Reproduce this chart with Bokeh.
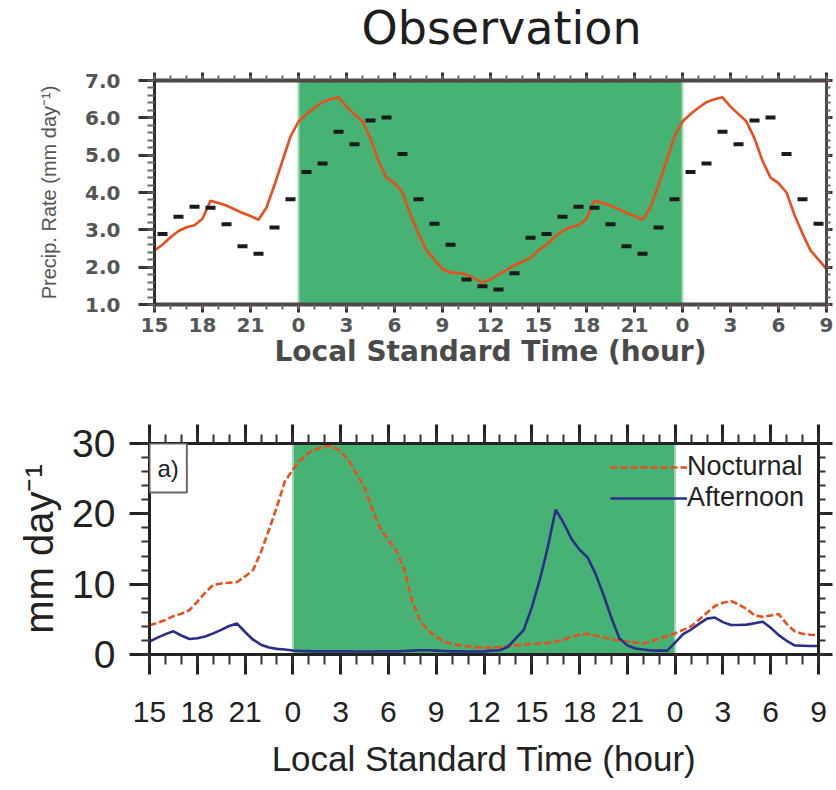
from bokeh.plotting import figure
from bokeh.models import (Range1d, FixedTicker, LinearAxis, BoxAnnotation, Span,
                          Legend, LegendItem, Label, PrintfTickFormatter,
                          CustomLabelingPolicy)
from bokeh.layouts import column, row
from bokeh.embed import file_html
from bokeh.resources import INLINE

# ---------------- data ----------------
tick_hours = [15, 18, 21, 24, 27, 30, 33, 36, 39, 42, 45, 48, 51, 54, 57]
tick_labels = ["15", "18", "21", "0", "3", "6", "9", "12", "15", "18", "21", "0", "3", "6", "9"]
shade_start, shade_end = 24, 48

# "Observation" panel: mean diurnal cycle (drawn twice in the chart), local time 0.0 .. 23.5 h
rate_cycle = [
    5.9, 6.1, 6.27, 6.42, 6.5, 6.55,      # 0 - 2.5
    6.3, 6.1, 5.9, 5.45, 4.85, 4.4,       # 3 - 5.5
    4.25, 4.0, 3.4, 2.9, 2.45, 2.2,       # 6 - 8.5
    1.95, 1.85, 1.85, 1.8, 1.7, 1.58,     # 9 - 11.5
    1.68, 1.8, 1.93, 2.05, 2.15, 2.25,    # 12 - 14.5
    2.45, 2.6, 2.8, 2.97, 3.07, 3.12,     # 15 - 17.5
    3.3, 3.78, 3.72, 3.65, 3.55, 3.45,    # 18 - 20.5
    3.37, 3.27, 3.6, 4.2, 4.85, 5.5,      # 21 - 23.5
]
# hourly means, plotted at h + 0.5
obs_cycle = [4.55, 4.78, 5.63, 5.29, 5.93, 6.01, 5.03, 3.82, 3.16, 2.60, 1.67, 1.49,
             1.40, 1.84, 2.79, 2.89, 3.35, 3.62, 3.59, 3.15, 2.56, 2.36, 3.06, 3.82]

# Panel a): 15 LST to 09 LST two days later, every 0.5 h (mm/day)
nocturnal = [
    4.15, 4.5, 4.9, 5.45, 5.8, 6.3,
    7.5, 8.8, 9.9, 10.1, 10.2, 10.3,
    11.1, 12.0, 14.6, 17.7, 21.0, 24.6,
    26.3, 27.7, 28.7, 29.2, 29.6, 29.6,
    28.9, 27.6, 25.7, 23.7, 20.6, 17.9,
    16.3, 14.8, 12.0, 7.5, 4.75, 3.4,
    2.5, 1.8, 1.5, 1.3, 1.15, 1.05,
    0.95, 1.0, 1.05, 1.15, 1.3, 1.4,
    1.5, 1.6, 1.65, 1.85, 2.1, 2.5,
    2.85, 2.9, 2.7, 2.45, 2.15, 2.0,
    1.85, 1.7, 1.55, 1.9, 2.25, 2.6,
    3.0, 3.5, 4.0, 4.95, 5.95, 6.9,
    7.35, 7.6, 7.1, 6.45, 5.55, 5.35,
    5.55, 5.75, 4.35, 3.3, 2.95, 2.8,
    2.75,
]
afternoon = [
    1.85, 2.4, 2.9, 3.3, 2.7, 2.2,
    2.3, 2.55, 3.0, 3.5, 4.05, 4.4,
    3.2, 2.1, 1.4, 1.0, 0.8, 0.7,
    0.57, 0.5, 0.48, 0.45, 0.45, 0.45,
    0.45, 0.45, 0.42, 0.42, 0.42, 0.45,
    0.45, 0.45, 0.5, 0.55, 0.6, 0.6,
    0.55, 0.5, 0.45, 0.45, 0.42, 0.42,
    0.45, 0.55, 0.6, 1.1, 2.3, 3.5,
    6.7, 10.6, 15.2, 20.6, 18.7, 16.4,
    14.9, 13.8, 11.5, 8.5, 5.2, 2.3,
    1.3, 0.85, 0.7, 0.57, 0.55, 0.55,
    1.7, 2.9, 3.55, 4.35, 5.1, 5.25,
    4.6, 4.2, 4.2, 4.25, 4.45, 4.65,
    3.8, 2.75, 1.95, 1.3, 1.25, 1.2,
    1.2,
]

# ---------------- derived series ----------------
half_hours = [15 + 0.5 * i for i in range(len(nocturnal))]
rate_y = [rate_cycle[int(round((h % 24) * 2)) % 48] for h in half_hours]
obs_x = [h + 0.5 for h in range(15, 57)]
obs_y = [obs_cycle[int(x) % 24] for x in obs_x]

GREEN = "#46b274"
EDGE = "#a6d8b3"
ORANGE = "#e94f1d"
NAVY = "#2c2f88"
SANS = "Liberation Sans"

label_map = dict(zip(tick_hours, tick_labels))
x_ticker = FixedTicker(ticks=tick_hours, minor_ticks=list(range(15, 58)))


def add_axis(fig, place, ticker, labels=True, **kw):
    ax = LinearAxis(ticker=ticker, **kw)
    if not labels:
        ax.major_label_text_font_size = "1px"
        ax.major_label_standoff = 0
        ax.major_label_policy = CustomLabelingPolicy(code="return []")
    fig.add_layout(ax, place)
    return ax


# ================= title strip =================
head = figure(width=836, height=64, x_range=Range1d(0, 1), y_range=Range1d(0, 1),
              output_backend="svg", toolbar_location=None,
              x_axis_location=None, y_axis_location=None,
              min_border_left=0, min_border_right=0, min_border_top=0, min_border_bottom=0)
head.grid.visible = False
head.outline_line_color = None
head.title.text = "Observation"
head.title.text_font = "DejaVu Sans"
head.title.text_font_size = "46px"
head.title.text_font_style = "normal"
head.title.text_color = "#1e1e1e"
head.title.align = "left"
head.title.vertical_align = "top"
head.title.offset = 361
head.title.standoff = 0

# ================= top panel: Observation =================
top = figure(width=836, height=314, x_range=Range1d(15, 57), y_range=Range1d(1, 7),
             output_backend="svg", toolbar_location=None, title=None,
             x_axis_location=None, y_axis_location=None,
             min_border_left=154, min_border_right=0, min_border_top=16, min_border_bottom=74)
top.grid.visible = False
top.outline_line_color = None

top.add_layout(BoxAnnotation(left=shade_start, right=shade_end, fill_color=GREEN,
                             fill_alpha=1, line_color=None, level="underlay"))
for loc in (shade_start, shade_end):
    top.add_layout(Span(location=loc, dimension="height", line_color=EDGE,
                        line_width=2, level="underlay"))

top.line(half_hours, rate_y, line_color=ORANGE, line_width=2.6)
top.scatter(obs_x, obs_y, marker="dash", size=10, line_color="#1b1b1b", line_width=4)

y_top_ticker = FixedTicker(ticks=[1, 2, 3, 4, 5, 6, 7],
                           minor_ticks=[1 + 0.2 * i for i in range(31)])

common_top = dict(axis_line_color="#4e4744", axis_line_width=4,
                  major_tick_line_color="#3a3434", major_tick_line_width=3, major_tick_in=0,
                  minor_tick_line_color="#6e6664", minor_tick_line_width=2, minor_tick_in=0)

ax = add_axis(top, "below", x_ticker, major_label_overrides=label_map,
              axis_label="Local Standard Time (hour)",
              major_tick_out=8, minor_tick_out=5, **common_top)
ax.major_label_text_font = "DejaVu Sans"
ax.major_label_text_font_size = "20px"
ax.major_label_text_font_style = "bold"
ax.major_label_text_color = "#555555"
ax.major_label_standoff = 5
ax.axis_label_text_font = "DejaVu Sans"
ax.axis_label_text_font_size = "28px"
ax.axis_label_text_font_style = "bold"
ax.axis_label_text_color = "#4a4a4a"
ax.axis_label_standoff = 0

ax = add_axis(top, "left", y_top_ticker, formatter=PrintfTickFormatter(format="%.1f"),
              axis_label="Precip. Rate (mm day\u207b\u00b9)",
              major_tick_out=16, minor_tick_out=7, **common_top)
ax.axis_line_color = "#2a2a2a"
ax.axis_line_width = 3
ax.major_label_text_font = "DejaVu Sans"
ax.major_label_text_font_size = "20px"
ax.major_label_text_font_style = "bold"
ax.major_label_text_color = "#555555"
ax.major_label_standoff = 18
ax.axis_label_text_font = SANS
ax.axis_label_text_font_size = "20px"
ax.axis_label_text_font_style = "normal"
ax.axis_label_text_color = "#555555"
ax.axis_label_standoff = 22

add_axis(top, "above", x_ticker, labels=False, major_tick_out=8, minor_tick_out=5, **common_top)
ax = add_axis(top, "right", y_top_ticker, labels=False, major_tick_out=6, minor_tick_out=4,
              **common_top)
ax.axis_line_width = 3

# ================= bottom panel: a) =================
bot = figure(width=836, height=410, x_range=Range1d(15, 57), y_range=Range1d(0, 30),
             output_backend="svg", toolbar_location=None, title=None,
             x_axis_location=None, y_axis_location=None,
             min_border_left=149, min_border_right=0, min_border_top=65, min_border_bottom=134)
bot.grid.visible = False
bot.outline_line_color = None

bot.add_layout(BoxAnnotation(left=shade_start, right=shade_end, fill_color=GREEN,
                             fill_alpha=1, line_color=None, level="underlay"))
for loc in (shade_start, shade_end):
    bot.add_layout(Span(location=loc, dimension="height", line_color=EDGE,
                        line_width=2, level="underlay"))

r_noc = bot.line(half_hours, nocturnal, line_color=ORANGE, line_width=2.6, line_dash="7 3")
r_aft = bot.line(half_hours, afternoon, line_color=NAVY, line_width=2.6)

y_bot_ticker = FixedTicker(ticks=[0, 10, 20, 30], minor_ticks=list(range(0, 31, 2)))
common_bot = dict(axis_line_color="#222222", axis_line_width=3,
                  major_tick_line_color="#222222", major_tick_line_width=3, major_tick_in=0,
                  minor_tick_line_color="#333333", minor_tick_line_width=2, minor_tick_in=0)

ax = add_axis(bot, "below", x_ticker, major_label_overrides=label_map,
              axis_label="Local Standard Time (hour)",
              major_tick_out=20, minor_tick_out=10, **common_bot)
ax.major_label_text_font = SANS
ax.major_label_text_font_size = "30px"
ax.major_label_text_color = "#222222"
ax.major_label_standoff = 27
ax.axis_label_text_font = SANS
ax.axis_label_text_font_size = "35px"
ax.axis_label_text_font_style = "normal"
ax.axis_label_text_color = "#222222"
ax.axis_label_standoff = 14

ax = add_axis(bot, "left", y_bot_ticker, axis_label="mm day\u207b\u00b9",
              major_tick_out=20, minor_tick_out=8, **common_bot)
ax.major_label_text_font = SANS
ax.major_label_text_font_size = "39px"
ax.major_label_text_color = "#222222"
ax.major_label_standoff = 14
ax.axis_label_text_font = SANS
ax.axis_label_text_font_size = "40px"
ax.axis_label_text_font_style = "normal"
ax.axis_label_text_color = "#222222"
ax.axis_label_standoff = 8

add_axis(bot, "above", x_ticker, labels=False, major_tick_out=19, minor_tick_out=9, **common_bot)
add_axis(bot, "right", y_bot_ticker, labels=False, major_tick_out=14, minor_tick_out=7, **common_bot)

legend = Legend(items=[LegendItem(label="Nocturnal", renderers=[r_noc]),
                       LegendItem(label="Afternoon", renderers=[r_aft])],
                location=(461, 141), glyph_width=77, glyph_height=20, label_standoff=0,
                padding=0, spacing=0, margin=0, border_line_color=None,
                background_fill_alpha=0, label_text_font=SANS,
                label_text_font_size="27px", label_text_color="#222222")
bot.add_layout(legend)

bot.add_layout(Label(x=15, y=30, text="a)", text_align="left", text_baseline="top",
                     x_offset=0, y_offset=0, text_font=SANS, text_font_size="24px",
                     text_color="#222222", background_fill_color="white",
                     border_line_color="#6e6663", border_line_width=2,
                     padding=dict(left=8, right=8, top=11, bottom=11)))

layout = column(row(head), top, row(bot), spacing=0)
open("out.html", "w").write(file_html(layout, INLINE))
